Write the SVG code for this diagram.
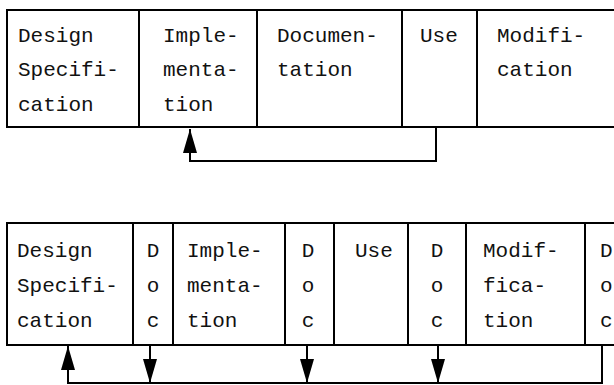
<svg xmlns="http://www.w3.org/2000/svg" width="614" height="385" viewBox="0 0 614 385">
  <style>
    .box { fill: #ffffff; stroke: #000000; stroke-width: 2; }
    .lbl { font-family: "Liberation Mono", "Courier New", monospace; font-size: 21px; fill: #111111; }
    .mid { text-anchor: middle; }
    .wire { fill: none; stroke: #000000; stroke-width: 2; }
  </style>
  <defs>
    <marker id="head" viewBox="0 0 24 14" refX="24" refY="7" markerWidth="24" markerHeight="14" markerUnits="userSpaceOnUse" orient="auto">
      <path d="M0,0 L24,7 L0,14 z" fill="#000000"/>
    </marker>
  </defs>
  <rect width="614" height="385" fill="#ffffff"/>

  <!-- upper sequence: one phase after another -->
  <g id="top-design">
    <rect class="box" x="7" y="10" width="132" height="117"/>
    <text class="lbl" x="18" y="42">Design</text>
    <text class="lbl" x="18" y="76">Specifi-</text>
    <text class="lbl" x="18" y="111">cation</text>
  </g>
  <g id="top-implementation">
    <rect class="box" x="139" y="10" width="118" height="117"/>
    <text class="lbl" x="163" y="42">Imple-</text>
    <text class="lbl" x="163" y="76">menta-</text>
    <text class="lbl" x="163" y="111">tion</text>
  </g>
  <g id="top-documentation">
    <rect class="box" x="257" y="10" width="145" height="117"/>
    <text class="lbl" x="277" y="42">Documen-</text>
    <text class="lbl" x="277" y="76">tation</text>
  </g>
  <g id="top-use">
    <rect class="box" x="402" y="10" width="75" height="117"/>
    <text class="lbl" x="420" y="42">Use</text>
  </g>
  <g id="top-modification">
    <rect class="box" x="477" y="10" width="145" height="117"/>
    <text class="lbl" x="497" y="42">Modifi-</text>
    <text class="lbl" x="497" y="76">cation</text>
  </g>

  <!-- lower sequence: documentation interleaved with each phase -->
  <g id="bot-design">
    <rect class="box" x="7" y="223" width="126" height="122"/>
    <text class="lbl" x="17" y="257">Design</text>
    <text class="lbl" x="17" y="292">Specifi-</text>
    <text class="lbl" x="17" y="327">cation</text>
  </g>
  <g id="bot-doc1">
    <rect class="box" x="133" y="223" width="40" height="122"/>
    <text class="lbl mid" x="153" y="257">D</text>
    <text class="lbl mid" x="153" y="292">o</text>
    <text class="lbl mid" x="153" y="327">c</text>
  </g>
  <g id="bot-implementation">
    <rect class="box" x="173" y="223" width="112" height="122"/>
    <text class="lbl" x="187" y="257">Imple-</text>
    <text class="lbl" x="187" y="292">menta-</text>
    <text class="lbl" x="187" y="327">tion</text>
  </g>
  <g id="bot-doc2">
    <rect class="box" x="285" y="223" width="49" height="122"/>
    <text class="lbl mid" x="308" y="257">D</text>
    <text class="lbl mid" x="308" y="292">o</text>
    <text class="lbl mid" x="308" y="327">c</text>
  </g>
  <g id="bot-use">
    <rect class="box" x="334" y="223" width="74" height="122"/>
    <text class="lbl" x="355" y="257">Use</text>
  </g>
  <g id="bot-doc3">
    <rect class="box" x="408" y="223" width="58" height="122"/>
    <text class="lbl mid" x="437" y="257">D</text>
    <text class="lbl mid" x="437" y="292">o</text>
    <text class="lbl mid" x="437" y="327">c</text>
  </g>
  <g id="bot-modification">
    <rect class="box" x="466" y="223" width="119" height="122"/>
    <text class="lbl" x="483" y="257">Modif-</text>
    <text class="lbl" x="483" y="292">fica-</text>
    <text class="lbl" x="483" y="327">tion</text>
  </g>
  <g id="bot-doc4">
    <rect class="box" x="585" y="223" width="40" height="122"/>
    <text class="lbl" x="600" y="257">D</text>
    <text class="lbl" x="600" y="292">o</text>
    <text class="lbl" x="600" y="327">c</text>
  </g>

  <g id="connectors">
    <!-- feedback from Use back to Implementation -->
    <path class="wire" d="M436,127 V161 H190 V129" marker-end="url(#head)"/>
    <!-- documentation feedback bus back to Design Specification -->
    <path class="wire" d="M602,345 V383 H68 V346" marker-end="url(#head)"/>
    <path class="wire" d="M150,345 V383" marker-end="url(#head)"/>
    <path class="wire" d="M307,345 V383" marker-end="url(#head)"/>
    <path class="wire" d="M438,345 V383" marker-end="url(#head)"/>
  </g>
</svg>
